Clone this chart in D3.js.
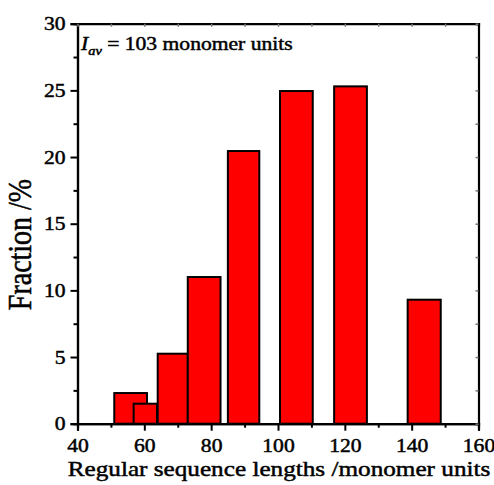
<!DOCTYPE html>
<html>
<head>
<meta charset="utf-8">
<script src="https://cdn.jsdelivr.net/npm/d3@7"></script>
<style>
  html, body { margin: 0; padding: 0; background: #fff; }
</style>
</head>
<body>
<svg id="chart" width="494" height="485"></svg>
<script>
// Histogram of regular sequence lengths: each bin has its own start/end
const binStart = [51, 56.8, 64, 73, 85, 100.6, 116.8, 138.8];
const binEnd   = [60.8, 63.8, 73, 82.8, 94.4, 110.4, 126.6, 148.7];
const fraction = [2.3, 1.5, 5.25, 11.0, 20.45, 24.95, 25.3, 9.3];

const xTicks = [40, 60, 80, 100, 120, 140, 160];
const xMinor = [50, 70, 90, 110, 130, 150];
const yTicks = [0, 5, 10, 15, 20, 25, 30];
const yMinor = [2.5, 7.5, 12.5, 17.5, 22.5, 27.5];

const FONT = "Liberation Serif";
const SX = 1.2; // text is set slightly wide

const svg = d3.select("#chart");
const plotLeft = 77.5, plotRight = 478.5, plotTop = 23.7, plotBottom = 423.7;

const x = d3.scaleLinear().domain([40, 160]).range([plotLeft, plotRight]);
const y = d3.scaleLinear().domain([0, 30]).range([plotBottom, plotTop]);

// bars
const bars = binStart.map((s, i) => ({ s, e: binEnd[i], v: fraction[i] }));
svg.append("g").selectAll("rect").data(bars).join("rect")
  .attr("x", d => x(d.s))
  .attr("y", d => y(d.v))
  .attr("width", d => x(d.e) - x(d.s))
  .attr("height", d => y(0) - y(d.v))
  .attr("fill", "#ff0000")
  .attr("stroke", "#000")
  .attr("stroke-width", 2);

// bottom axis
const xAxis = svg.append("g").attr("transform", `translate(0,${plotBottom})`);
xAxis.call(d3.axisBottom(x).tickValues(xTicks).tickSize(7).tickFormat(d3.format("d")));
const xMinorAxis = svg.append("g").attr("transform", `translate(0,${plotBottom})`);
xMinorAxis.call(d3.axisBottom(x).tickValues(xMinor).tickSize(4).tickFormat(""));

// left axis
const yAxis = svg.append("g").attr("transform", `translate(${plotLeft},0)`);
yAxis.call(d3.axisLeft(y).tickValues(yTicks).tickSize(7).tickFormat(d3.format("d")));
const yMinorAxis = svg.append("g").attr("transform", `translate(${plotLeft},0)`);
yMinorAxis.call(d3.axisLeft(y).tickValues(yMinor).tickSize(4).tickFormat(""));

// top and right frame with faint inner ticks
const topAxis = svg.append("g").attr("transform", `translate(0,${plotTop})`);
topAxis.call(d3.axisTop(x).tickValues(xTicks.concat(xMinor)).tickSize(-3).tickFormat(""));
const rightAxis = svg.append("g").attr("transform", `translate(${plotRight},0)`);
rightAxis.call(d3.axisRight(y).tickValues(yTicks.concat(yMinor)).tickSize(-3).tickFormat(""));

[xAxis, xMinorAxis, yAxis, yMinorAxis, topAxis, rightAxis].forEach(g => {
  g.select(".domain").attr("stroke", "#000").attr("stroke-width", 2.2);
  g.selectAll(".tick line").attr("stroke", "#000").attr("stroke-width", 2);
});
[topAxis, rightAxis].forEach(g => g.selectAll(".tick line").attr("stroke", "#777").attr("stroke-width", 1.5));

// tick labels
xAxis.selectAll(".tick text")
  .attr("font-family", FONT).attr("font-size", 18).attr("fill", "#000")
  .attr("y", 0).attr("dy", 0)
  .attr("transform", `translate(0,28) scale(${SX},1)`);
yAxis.selectAll(".tick text")
  .attr("font-family", FONT).attr("font-size", 18).attr("fill", "#000")
  .attr("x", 0).attr("dy", "0.34em")
  .attr("transform", `translate(-12,0) scale(${SX},1)`);

// axis titles
svg.append("text")
  .attr("transform", `translate(279,476) scale(${SX},1)`)
  .attr("text-anchor", "middle")
  .attr("font-family", FONT).attr("font-size", 21)
  .text("Regular sequence lengths /monomer units");

svg.append("text")
  .attr("transform", `translate(31,244.5) scale(${SX},1) rotate(-90)`)
  .attr("text-anchor", "middle")
  .attr("font-family", FONT).attr("font-size", 28)
  .text("Fraction /%");

// average length annotation
const ann = svg.append("text")
  .attr("transform", `translate(81,50) scale(${SX},1)`)
  .attr("font-family", FONT).attr("font-size", 18);
ann.append("tspan").attr("font-style", "italic").text("I");
ann.append("tspan").attr("font-style", "italic").attr("font-size", 12).attr("dy", 5).text("av");
ann.append("tspan").attr("dy", -5).text(" = 103 monomer units");

// slightly heavier glyph strokes for all text
svg.selectAll("text").attr("stroke", "#000").attr("stroke-width", 0.45);
</script>
</body>
</html>
